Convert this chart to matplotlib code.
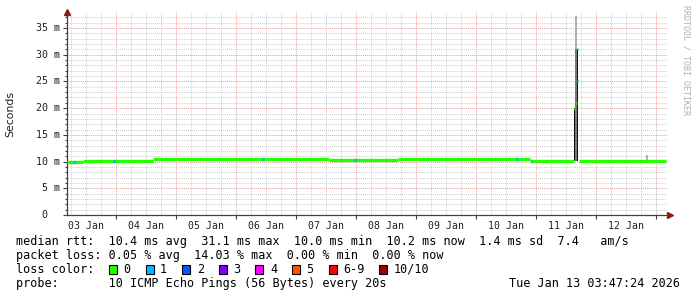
import matplotlib.pyplot as plt
import numpy as np
from matplotlib.patches import Rectangle

W, H = 697, 297

# median rtt, step segments (days since 03 Jan 00:00 -> ms)
seg_start = [0.183, 0.45, 1.617, 4.55, 5.7, 7.9, 8.717]
seg_end = [0.45, 1.617, 4.55, 5.7, 7.9, 8.625, 10.167]
seg_rtt = [9.9, 10.1, 10.4, 10.3, 10.4, 10.2, 10.2]

# bins where 1 of 10 pings was lost
loss1_day = [0.30, 0.967, 3.45, 4.98, 7.68, 7.92]
loss1_rtt = [9.9, 10.1, 10.4, 10.3, 10.4, 10.2]

# spike on 11 Jan (smoke)
spike_day = [8.642, 8.667, 8.692, 9.85]
spike_lo = [10.2, 10.2, 10.2, 10.2]
spike_hi = [20.0, 37.2, 31.0, 11.2]
spike_mid = [20.0, 31.0, 31.0, 10.2]
spike_mid_col = ["#111111", "#777777", "#111111", "#bbbbbb"]
spike_med_day = [8.642, 8.667, 8.692, 8.692]
spike_med = [19.8, 21.0, 31.0, 25.0]
spike_med_loss = [0, 0, 1, 1]

day_labels = ["03 Jan", "04 Jan", "05 Jan", "06 Jan", "07 Jan",
              "08 Jan", "09 Jan", "10 Jan", "11 Jan", "12 Jan"]

loss_labels = ["0", "1", "2", "3", "4", "5", "6-9", "10/10"]
loss_colors = ["#26ff00", "#00b8ff", "#0059ff", "#7e00ff",
               "#ff00ff", "#ff5500", "#ff0000", "#a10000"]

line1 = "median rtt:  10.4 ms avg  31.1 ms max  10.0 ms min  10.2 ms now  1.4 ms sd  7.4   am/s"
line2 = "packet loss: 0.05 % avg  14.03 % max  0.00 % min  0.00 % now"
line3 = "loss color:"
line4 = "probe:       10 ICMP Echo Pings (56 Bytes) every 20s"
stamp = "Tue Jan 13 03:47:24 2026"

mono = "DejaVu Sans Mono"


def px(x, y):
    return x / W, 1 - y / H


fig = plt.figure(figsize=(W / 100, H / 100), dpi=100)
fig.patch.set_facecolor("white")
ax = fig.add_axes([67 / W, (H - 215) / H, 600 / W, 203 / H])

ax.set_xlim(0.183, 10.183)
ax.set_ylim(0, 38.0)

# grid
ax.set_xticks(np.arange(1, 11))
ax.set_xticks(np.arange(0.25, 10.2, 0.25), minor=True)
ax.set_yticks(np.arange(0, 36, 5))
ax.set_yticks(np.arange(0, 38, 1), minor=True)
ax.grid(which="minor", color="#cfcfcf", ls=(0, (1, 1)), lw=0.7)
ax.grid(which="major", color="#e8a0a0", ls=(0, (1, 1)), lw=0.7)
ax.set_axisbelow(True)

# smoke
bw = 1.6 / 60
ax.bar(spike_day, np.array(spike_hi) - np.array(spike_lo), bottom=spike_lo,
       width=bw, color="#b0b0b0", lw=0, zorder=2)
ax.bar(spike_day, np.array(spike_mid) - np.array(spike_lo), bottom=spike_lo,
       width=bw, color=spike_mid_col, lw=0, zorder=3)

# median line
ax.hlines(seg_rtt, seg_start, seg_end, color=loss_colors[0], lw=2.4, zorder=4)
ax.hlines(loss1_rtt, np.array(loss1_day) - 0.012, np.array(loss1_day) + 0.012,
          color=loss_colors[1], lw=2.4, zorder=5)
for d, m, l in zip(spike_med_day, spike_med, spike_med_loss):
    ax.hlines(m, d - 0.008, d + 0.008, color=loss_colors[l], lw=2.0, zorder=5)

# axes
for s in ["top", "right"]:
    ax.spines[s].set_visible(False)
for s in ["left", "bottom"]:
    ax.spines[s].set_color("#404040")
    ax.spines[s].set_linewidth(0.9)
ax.tick_params(which="both", color="#404040", width=0.8)
ax.tick_params(axis="x", which="major", length=3, labelbottom=False)
ax.tick_params(axis="x", which="minor", length=0, pad=4)
ax.tick_params(axis="y", which="major", length=3, labelleft=False)
ax.tick_params(axis="y", which="minor", length=1.5)

# x labels at noon
minor_lbl = []
for t in np.arange(0.25, 10.2, 0.25):
    i = int(t)
    if abs(t - i - 0.5) < 1e-6 and i < len(day_labels):
        minor_lbl.append(day_labels[i])
    else:
        minor_lbl.append("")
ax.set_xticklabels(minor_lbl, minor=True, fontfamily=mono, fontsize=7.1,
                   color="#202020")

# y labels
for v in range(5, 36, 5):
    ax.annotate(f"{v} m", (0, v), xycoords=("axes fraction", "data"),
                xytext=(-7, 0), textcoords="offset pixels", ha="right",
                va="center", fontfamily=mono, fontsize=7.2, color="#202020")
ax.annotate("0", (0, 0), xycoords=("axes fraction", "data"),
            xytext=(-20, 0), textcoords="offset pixels", ha="right",
            va="center", fontfamily=mono, fontsize=7.2, color="#202020")

fig.text(*px(10, 114), "Seconds", rotation=90, ha="center", va="center",
         fontfamily="DejaVu Sans", fontsize=7.8, color="#202020")

# arrows
ax.plot([0], [1.0], marker="^", ms=4, color="#8b1a1a", transform=ax.transAxes,
        clip_on=False, zorder=6)
ax.plot([1.005], [0], marker=">", ms=4, color="#8b1a1a", transform=ax.transAxes,
        clip_on=False, zorder=6)

fig.text(*px(686, 5), "RRDTOOL / TOBI OETIKER", rotation=270, ha="center",
         va="top", fontfamily=mono, fontsize=6, color="#b0b0b0")

# legend text
fs = 8.5
fig.text(*px(16, 241.5), line1, ha="left", va="center", fontfamily=mono, fontsize=fs)
fig.text(*px(16, 255.5), line2, ha="left", va="center", fontfamily=mono, fontsize=fs)
fig.text(*px(16, 269.5), line3, ha="left", va="center", fontfamily=mono, fontsize=fs)
fig.text(*px(16, 283.5), line4, ha="left", va="center", fontfamily=mono, fontsize=fs)
fig.text(*px(680, 283.5), stamp, ha="right", va="center", fontfamily=mono, fontsize=fs)

x = 109
for lab, col in zip(loss_labels, loss_colors):
    fig.patches.append(Rectangle(px(x, 273.5), 8 / W, 9 / H, transform=fig.transFigure,
                                 facecolor=col, edgecolor="black", lw=0.8))
    fig.text(*px(x + 14.5, 269.5), lab, ha="left", va="center",
             fontfamily=mono, fontsize=fs)
    x += 14.5 + len(lab) * 7.1 + 15

fig.savefig("out.png", dpi=100)
